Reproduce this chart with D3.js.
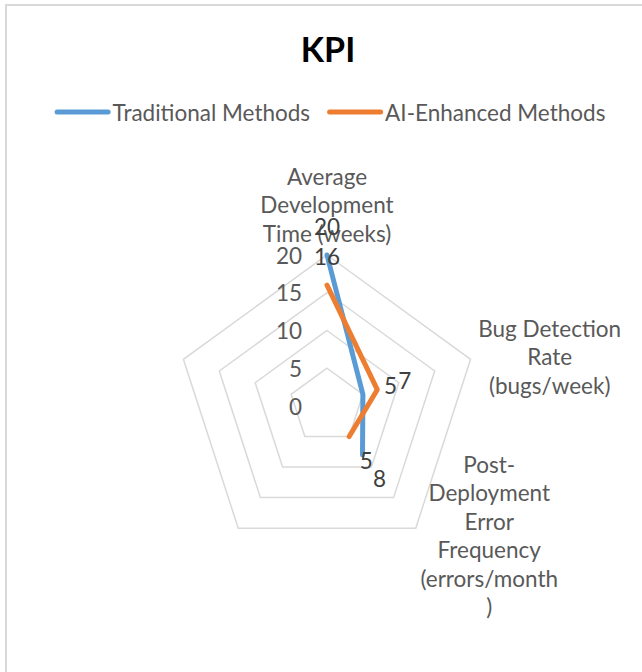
<!DOCTYPE html>
<html>
<head>
<meta charset="utf-8">
<script src="https://cdn.jsdelivr.net/npm/d3@7"></script>
<style>
  body { margin: 0; background: #fff; }
  text { font-family: Lato, "Open Sans", sans-serif; }
</style>
</head>
<body>
<script>
const width = 642;
const height = 672;

// data
const categories = [
	["Average", "Development", "Time (weeks)"],
	["Bug Detection", "Rate", "(bugs/week)"],
	["Post-", "Deployment", "Error", "Frequency", "(errors/month", ")"],
	[],
	[]
];
const seriesNames = ["Traditional Methods", "AI-Enhanced Methods"];
const traditional = [20, 5, 8, null, null];
const aiEnhanced = [16, 7, 5, null, null];
const tickValues = [0, 5, 10, 15, 20];
const colors = ["#5b9bd5", "#ed7d31"];

const cx = 327;
const cy = 406;
const R = 151;
const FONT = 22.5;

const svg = d3.select("body")
	.append("svg")
	.attr("width", width)
	.attr("height", height);

// chart border
svg.append("rect")
	.attr("x", 6)
	.attr("y", 5)
	.attr("width", width + 10)
	.attr("height", height + 10)
	.attr("fill", "#fff")
	.attr("stroke", "#d9d9d9")
	.attr("stroke-width", 2);

// title
svg.append("text")
	.attr("x", 328)
	.attr("y", 48)
	.attr("text-anchor", "middle")
	.attr("dominant-baseline", "central")
	.attr("font-size", "34px")
	.attr("font-weight", "bold")
	.attr("fill", "#000")
	.text("KPI");

// legend
const legend = svg.append("g");
let lx = 0;
seriesNames.forEach(function (name, i) {
	const item = legend.append("g").attr("transform", "translate(" + lx + ",0)");
	item.append("line")
		.attr("x1", 2.5).attr("x2", 53.5)
		.attr("y1", 0).attr("y2", 0)
		.attr("stroke", colors[i])
		.attr("stroke-width", 5)
		.attr("stroke-linecap", "round");
	const t = item.append("text")
		.attr("x", 58)
		.attr("y", 0)
		.attr("dominant-baseline", "central")
		.attr("font-size", FONT + "px")
		.attr("fill", "#595959")
		.text(name);
	lx += 58 + t.node().getComputedTextLength() + 17;
});
lx -= 17;
legend.attr("transform", "translate(" + (330 - lx / 2) + ",112)");

// scales
const r = d3.scaleLinear().domain([0, 20]).range([0, R]);
const angle = d3.scaleLinear().domain([0, categories.length]).range([0, 2 * Math.PI]);

function px(i, v) { return cx + Math.sin(angle(i)) * r(v); }
function py(i, v) { return cy - Math.cos(angle(i)) * r(v); }

const plot = svg.append("g");

// gridlines (rings)
tickValues.filter(function (d) { return d > 0; }).forEach(function (t) {
	const pts = d3.range(categories.length).map(function (i) { return [px(i, t), py(i, t)]; });
	plot.append("polygon")
		.attr("points", pts.map(function (p) { return p.join(","); }).join(" "))
		.attr("fill", "none")
		.attr("stroke", "#d9d9d9")
		.attr("stroke-width", 1.5);
});

// tick labels
plot.selectAll(".tick")
	.data(tickValues)
	.enter()
	.append("text")
	.attr("x", cx - 25)
	.attr("y", function (d) { return cy - r(d); })
	.attr("text-anchor", "end")
	.attr("dominant-baseline", "central")
	.attr("font-size", FONT + "px")
	.attr("fill", "#595959")
	.text(function (d) { return d; });

// category labels
const LINE_H = 28.5;
categories.forEach(function (lines, i) {
	if (!lines.length) return;
	const a = angle(i);
	const vx = px(i, 20), vy = py(i, 20);
	const g = plot.append("g");
	const texts = lines.map(function (s, k) {
		return g.append("text")
			.attr("text-anchor", "middle")
			.attr("dominant-baseline", "central")
			.attr("font-size", FONT + "px")
			.attr("fill", "#595959")
			.attr("y", k * LINE_H)
			.text(s);
	});
	const bw = d3.max(texts, function (t) { return t.node().getComputedTextLength(); });
	const bh = (lines.length - 1) * LINE_H;
	let x = vx, yc;
	if (Math.sin(a) > 0.1) x = vx + 8 * Math.sin(a) + bw / 2;
	else if (Math.sin(a) < -0.1) x = vx - 8 * Math.sin(a) - bw / 2;
	if (Math.cos(a) > 0.9) yc = vy - 22 - bh / 2;
	else yc = vy - 9 * Math.cos(a);
	g.attr("transform", "translate(" + x + "," + (yc - bh / 2) + ")");
});

// series lines
const series = [traditional, aiEnhanced];
const line = d3.line()
	.defined(function (d) { return d.v != null; })
	.x(function (d) { return px(d.i, d.v); })
	.y(function (d) { return py(d.i, d.v); });

series.forEach(function (vals, s) {
	const pts = vals.map(function (v, i) { return { i: i, v: v }; });
	plot.append("path")
		.attr("d", line(pts))
		.attr("fill", "none")
		.attr("stroke", colors[s])
		.attr("stroke-width", 5)
		.attr("stroke-linecap", "round")
		.attr("stroke-linejoin", "round");
});

// data labels
series.forEach(function (vals, s) {
	vals.forEach(function (v, i) {
		if (v == null) return;
		const a = angle(i);
		plot.append("text")
			.attr("x", px(i, v) + Math.sin(a) * 29)
			.attr("y", py(i, v) - Math.cos(a) * 29)
			.attr("text-anchor", "middle")
			.attr("dominant-baseline", "central")
			.attr("font-size", FONT + "px")
			.attr("fill", "#404040")
			.text(v);
	});
});
</script>
</body>
</html>
